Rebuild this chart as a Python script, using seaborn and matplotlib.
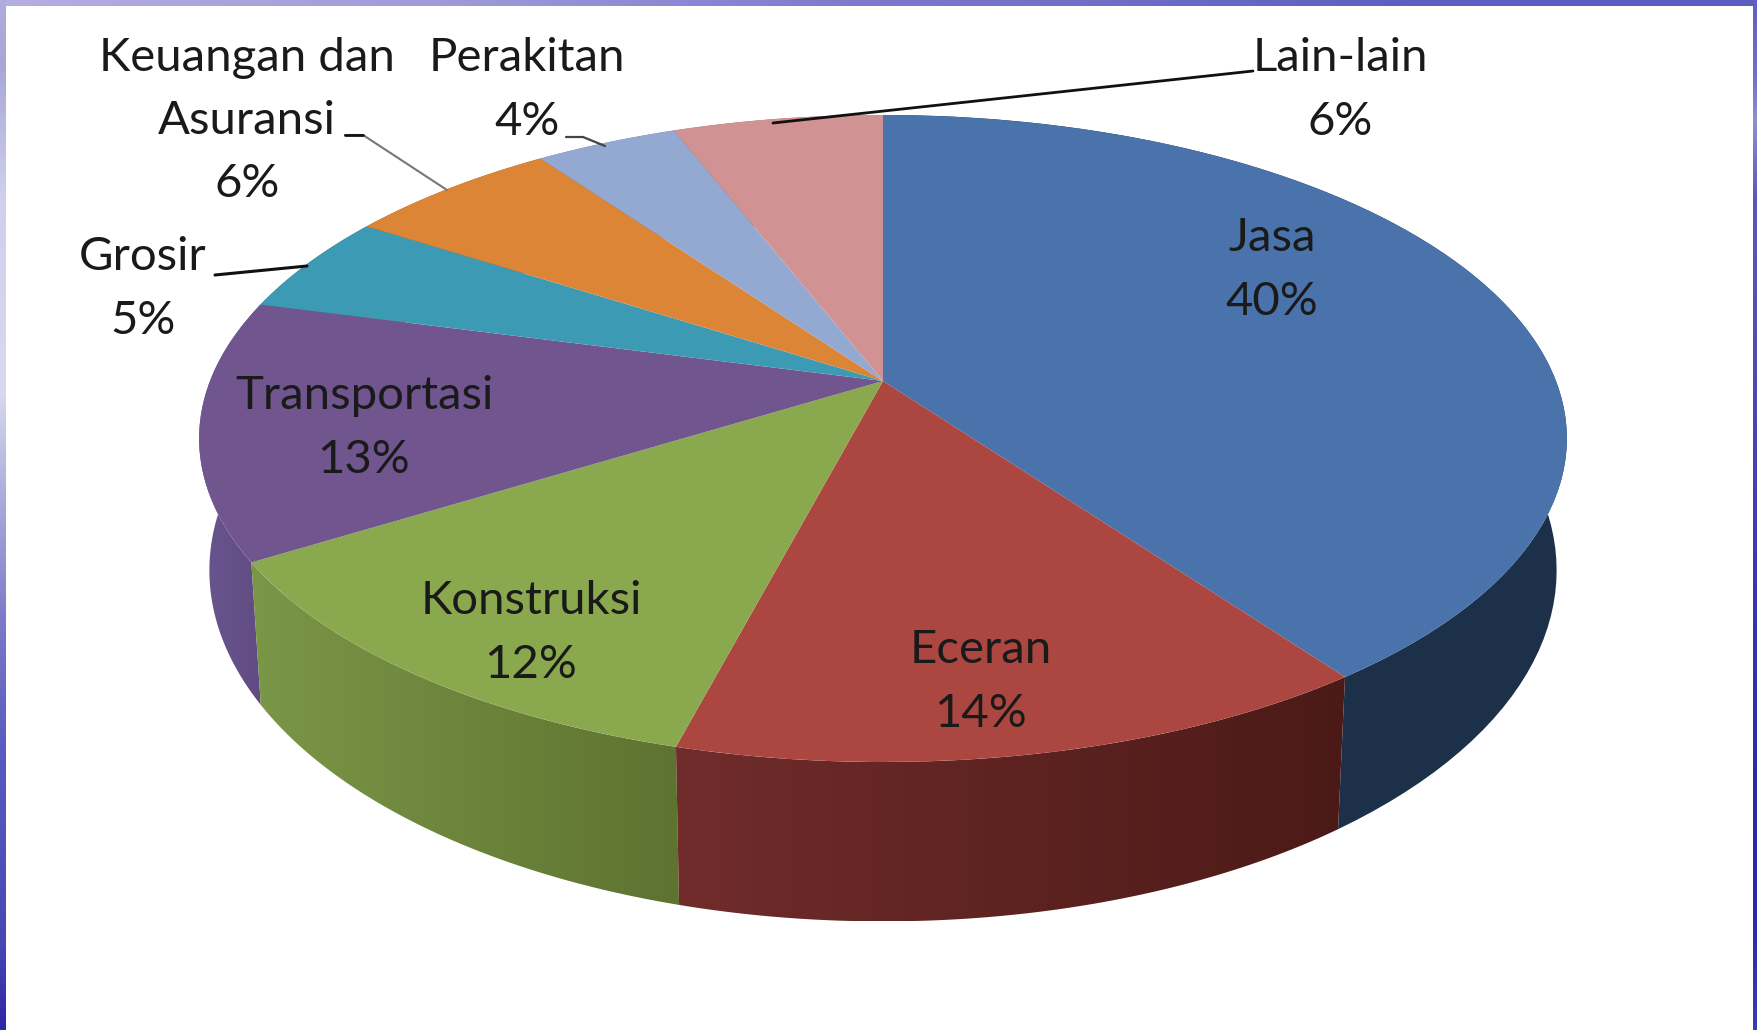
import numpy as np
import matplotlib
matplotlib.use("Agg")
import matplotlib.pyplot as plt
import seaborn as sns
from matplotlib.colors import LinearSegmentedColormap
from matplotlib.patches import Polygon
from matplotlib.transforms import Transform

names = ["Jasa", "Eceran", "Konstruksi", "Transportasi", "Grosir", "Keuangan dan\nAsuransi", "Perakitan", "Lain-lain"]
values = [40, 14.1, 12.1, 12.9, 5, 6, 4, 5.9]
top_colors = ["#4a73ab", "#ac4640", "#8aa84d", "#70558f", "#3c9ab4", "#dd8537", "#93a9d2", "#d09293"]
side_left = ["#1d3049", "#702c2b", "#7a9647", "#6a5690", "#2a6a80", "#a05f25", "#66789a", "#956a6a"]
side_right = ["#1d3049", "#4b1a17", "#5e7330", "#5f4a80", "#2a6a80", "#a05f25", "#66789a", "#956a6a"]

label_x = [1272, 981, 531, 364, 143, 247, 527, 1340]
label_y = [270, 682, 633, 428, 289, 121, 90, 90]

top_band = [(0, "#b4aee2"), (0.25, "#a09ada"), (0.5, "#7c78cc"), (0.8, "#5f5fc2"), (1, "#5a5cc0")]
left_band = [(0, "#afabdc"), (0.06, "#a9a6d6"), (0.19, "#d0d0ee"), (0.38, "#d8d8ee"), (0.51, "#a0a0d8"),
             (0.61, "#7a78c8"), (0.73, "#5c5ac0"), (0.92, "#4a46b4"), (1, "#3028a5")]
right_band = [(0, "#6060c4"), (0.07, "#7070cc"), (0.115, "#9090cc"), (0.19, "#5858bc"), (0.38, "#4a4ab4"),
              (0.57, "#3838ac"), (0.76, "#2a2aa5"), (0.89, "#2a2aa8"), (1, "#3a3ab0")]

W, H = 1757, 1030
APEX_X, APEX_Y = 883, 381
RX, RY, K = 673, 313.3, 0.1777


def project(x, y):
    w = 1 + K * y
    return RX * x / w, -RY * y / w


class Perspective(Transform):
    input_dims = 2
    output_dims = 2
    is_separable = False

    def transform_non_affine(self, values):
        px, py = project(values[:, 0], values[:, 1])
        return np.column_stack([APEX_X + px, APEX_Y + py])


sns.set_theme(style="white")
plt.rcParams["font.family"] = ["Lato", "DejaVu Sans"]

fig = plt.figure(figsize=(W / 100, H / 100), dpi=100, facecolor="white")
ax = fig.add_axes([0, 0, 1, 1])

palette = sns.color_palette(top_colors)

# rim of the pie, one piece per slice, back ones first
total = sum(values)
angle = 90.0
spans = []
for v in values:
    step = 360 * v / total
    spans.append((angle, angle - step))
    angle -= step

for i in [7, 6, 5, 4, 0, 3, 2, 1]:
    t = np.radians(np.linspace(spans[i][0], spans[i][1], 80))
    px, py = project(np.cos(t), np.sin(t))
    upper = np.column_stack([APEX_X + px, APEX_Y + py])
    lower = np.column_stack([APEX_X + 0.985 * px, APEX_Y + 127 + 1.085 * py])
    outline = np.vstack([upper, lower[::-1]])
    cmap = LinearSegmentedColormap.from_list("rim", [side_left[i], side_right[i]])
    x0, x1 = outline[:, 0].min(), outline[:, 0].max()
    y0, y1 = outline[:, 1].min(), outline[:, 1].max()
    im = ax.imshow(np.linspace(0, 1, 64)[None, :], cmap=cmap, extent=[x0, x1, y1, y0],
                   aspect="auto", interpolation="bilinear", zorder=1)
    clip = Polygon(outline, closed=True, transform=ax.transData, facecolor="none", edgecolor="none")
    ax.add_patch(clip)
    im.set_clip_path(clip)

wedges, _ = ax.pie(values, colors=palette, startangle=90, counterclock=False,
                   wedgeprops={"linewidth": 0})
persp = Perspective()
for w in wedges:
    w.set_transform(persp + ax.transData)
    w.set_zorder(2)

# leader lines
ax.plot([1253, 773], [71, 123], color="#111111", lw=2, zorder=3)
ax.plot([345, 363, 447], [135, 135, 190], color="#777777", lw=1.5, zorder=3)
ax.plot([345, 363], [135, 135], color="#111111", lw=2, zorder=3)
ax.plot([566, 583, 605], [137, 137, 146], color="#444444", lw=1.6, zorder=3)
ax.plot([215, 307], [275, 266], color="#111111", lw=2.2, zorder=3)

for n, v, x, y in zip(names, values, label_x, label_y):
    ax.text(x, y, f"{n}\n{round(v)}%", ha="center", va="center", fontsize=34, color="#1a1a1a",
            linespacing=1.62, zorder=4)


# slide background bands
def band(stops, extent, vertical):
    cmap = LinearSegmentedColormap.from_list("band", stops)
    grad = np.linspace(0, 1, 256)
    grad = grad[:, None] if vertical else grad[None, :]
    ax.imshow(grad, cmap=cmap, extent=extent, aspect="auto", origin="upper",
              interpolation="bilinear", zorder=5)


band(top_band, [0, W, 6, 0], False)
band(left_band, [0, 6, H, 0], True)
band(right_band, [1753, W, H, 0], True)

ax.set_aspect("auto")
ax.set_xlim(0, W)
ax.set_ylim(H, 0)
ax.axis("off")

fig.savefig("out.png", dpi=100)
